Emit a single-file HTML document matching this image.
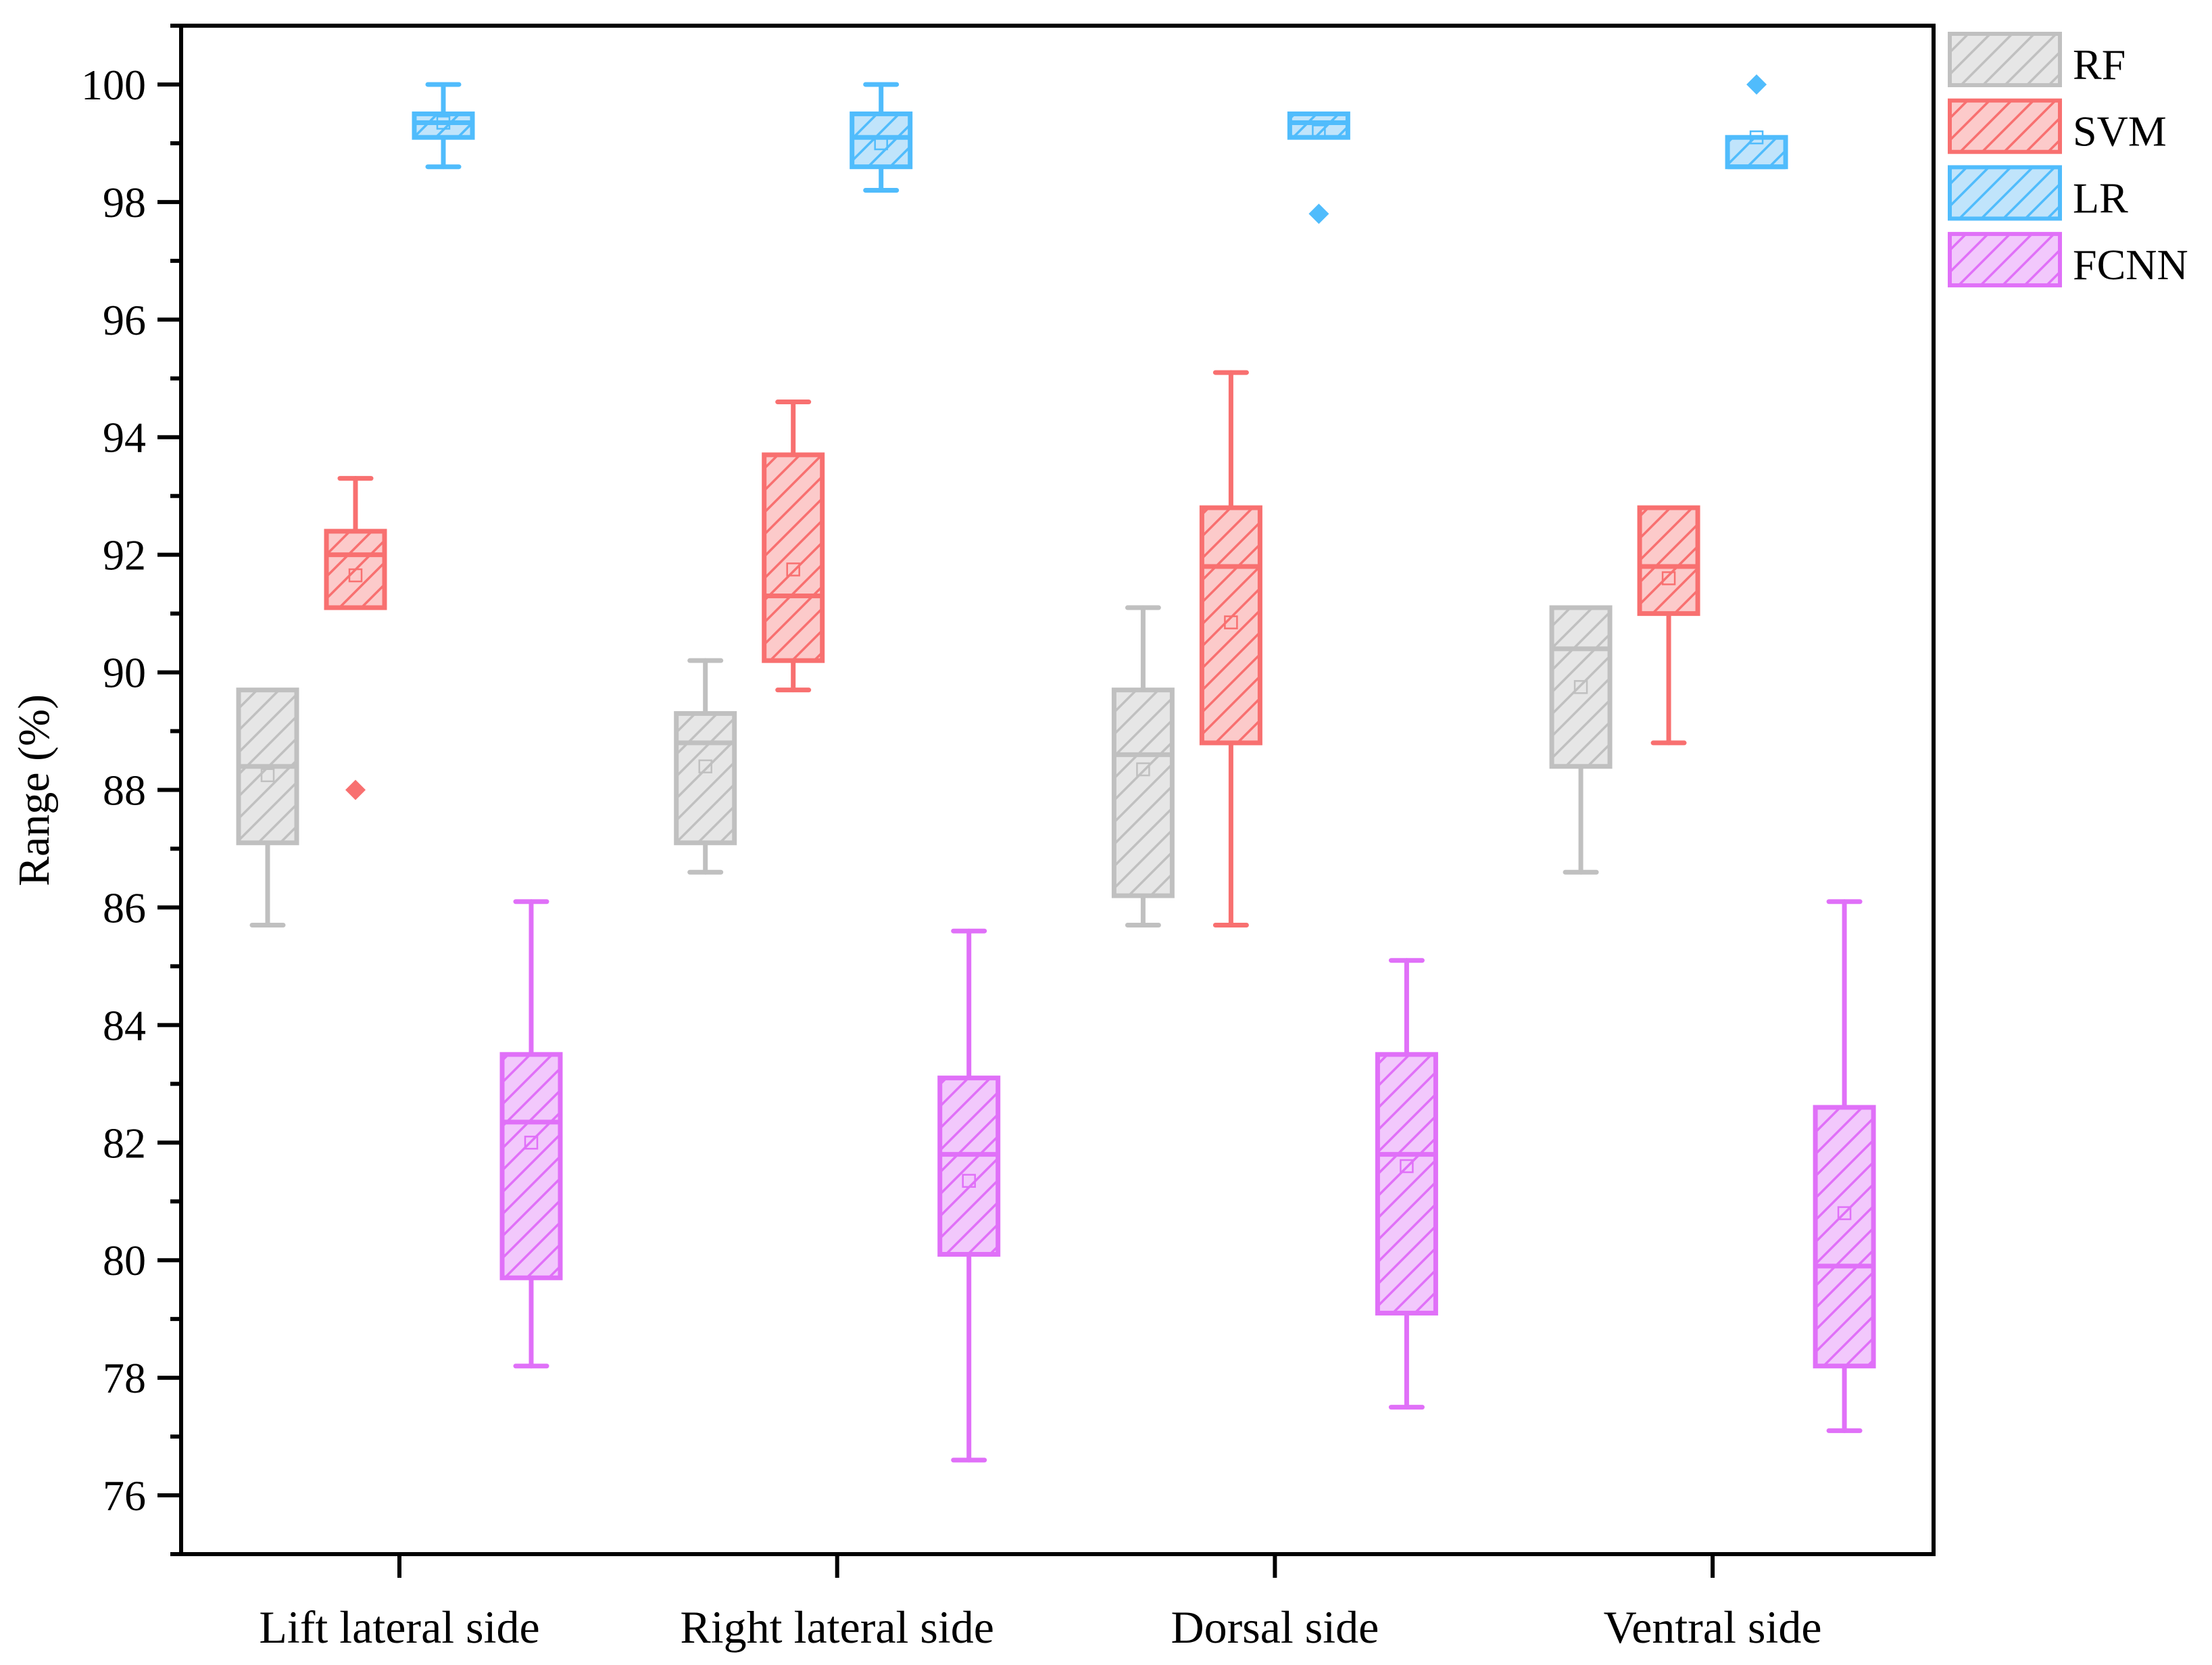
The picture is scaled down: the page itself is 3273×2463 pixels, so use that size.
<!DOCTYPE html>
<html><head><meta charset="utf-8"><style>
html,body{margin:0;padding:0;background:#fff}
svg{display:block;font-family:"Liberation Serif",serif}
svg text{font-family:"Liberation Serif",serif}
</style></head><body>
<svg id="chart" width="3273" height="2463" viewBox="0 0 3273 2463" xmlns="http://www.w3.org/2000/svg" font-family="Liberation Serif, serif">
<defs>
<pattern id="h-RF" patternUnits="userSpaceOnUse" width="23" height="23" patternTransform="rotate(45)"><rect width="23" height="23" fill="#e6e6e6"/><rect x="0" y="0" width="3.5" height="23" fill="#c0c0c0"/></pattern>
<pattern id="h-SVM" patternUnits="userSpaceOnUse" width="23" height="23" patternTransform="rotate(45)"><rect width="23" height="23" fill="#fccaca"/><rect x="0" y="0" width="3.5" height="23" fill="#f87070"/></pattern>
<pattern id="h-LR" patternUnits="userSpaceOnUse" width="23" height="23" patternTransform="rotate(45)"><rect width="23" height="23" fill="#c0e4fb"/><rect x="0" y="0" width="3.5" height="23" fill="#50bcfc"/></pattern>
<pattern id="h-FCNN" patternUnits="userSpaceOnUse" width="23" height="23" patternTransform="rotate(45)"><rect width="23" height="23" fill="#f2c8fc"/><rect x="0" y="0" width="3.5" height="23" fill="#e070f8"/></pattern>
</defs>
<g id="plot"></g>
</svg>
<script>
const categories = ["Lift lateral side","Right lateral side","Dorsal side","Ventral side"];
const seriesNames = ["RF","SVM","LR","FCNN"];
// [whiskerLow, q1, median, q3, whiskerHigh] per category
const rfStats   = [[85.7,87.1,88.4,89.7,89.7],[86.6,87.1,88.8,89.3,90.2],[85.7,86.2,88.6,89.7,91.1],[86.6,88.4,90.4,91.1,91.1]];
const svmStats  = [[91.1,91.1,92.0,92.4,93.3],[89.7,90.2,91.3,93.7,94.6],[85.7,88.8,91.8,92.8,95.1],[88.8,91.0,91.8,92.8,92.8]];
const lrStats   = [[98.6,99.1,99.35,99.5,100],[98.2,98.6,99.1,99.5,100],[99.1,99.1,99.35,99.5,99.5],[98.6,98.6,98.6,99.1,99.1]];
const fcnnStats = [[78.2,79.7,82.35,83.5,86.1],[76.6,80.1,81.8,83.1,85.6],[77.5,79.1,81.8,83.5,85.1],[77.1,78.2,79.9,82.6,86.1]];
const rfMeans   = [88.25,88.4,88.35,89.75];
const svmMeans  = [91.65,91.75,90.85,91.6];
const lrMeans   = [99.35,99.0,99.2,99.1];
const fcnnMeans = [82.0,81.35,81.6,80.8];
const svmOutliers = [[0,88.0]];
const lrOutliers  = [[2,97.8],[3,100]];
const yTicks = [76,78,80,82,84,86,88,90,92,94,96,98,100];
const yMinor = [75,77,79,81,83,85,87,89,91,93,95,97,99,101];

const NS="http://www.w3.org/2000/svg";
const FONT="Liberation Serif, serif";
const colors={RF:"#c0c0c0",SVM:"#f87070",LR:"#50bcfc",FCNN:"#e070f8"};
const L=268,R=2861,T=38,B=2299,yMin=75,yMax=101;
const y=v=>B-(v-yMin)/(yMax-yMin)*(B-T);
const catX=i=>591+i*647.7;
const offs=[-195,-65,65,195];
const g=document.getElementById('plot');
function mk(tag,attrs,parent){const e=document.createElementNS(NS,tag);for(const k in attrs)e.setAttribute(k,attrs[k]);(parent||g).appendChild(e);return e;}

const stats=[rfStats,svmStats,lrStats,fcnnStats];
const means=[rfMeans,svmMeans,lrMeans,fcnnMeans];
const outs=[[],svmOutliers,lrOutliers,[]];
const bw=86,cw=46,sw=7;
seriesNames.forEach((s,si)=>{
  const c=colors[s];
  const sg=mk('g',{});
  
  
  stats[si].forEach((d,ci)=>{
    const cx=catX(ci)+offs[si];
    const bg=mk('g',{},sg);
    
    
    const st={stroke:c,'stroke-width':sw,fill:'none','stroke-linecap':'round'};
    if(d[4]>d[3]){mk('line',Object.assign({x1:cx,x2:cx,y1:y(d[4]),y2:y(d[3])},st),bg);mk('line',Object.assign({x1:cx-cw/2,x2:cx+cw/2,y1:y(d[4]),y2:y(d[4])},st),bg);}
    if(d[0]<d[1]){mk('line',Object.assign({x1:cx,x2:cx,y1:y(d[1]),y2:y(d[0])},st),bg);mk('line',Object.assign({x1:cx-cw/2,x2:cx+cw/2,y1:y(d[0]),y2:y(d[0])},st),bg);}
    mk('rect',{x:cx-bw/2,y:y(d[3]),width:bw,height:Math.max(1,y(d[1])-y(d[3])),fill:'url(#h-'+s+')',stroke:c,'stroke-width':sw},bg);
    mk('line',{x1:cx-bw/2,x2:cx+bw/2,y1:y(d[2]),y2:y(d[2]),stroke:c,'stroke-width':sw},bg);
    const m=means[si][ci];
    mk('rect',{x:cx-9,y:y(m)-9,width:18,height:18,fill:'none',stroke:c,'stroke-width':2.5},bg);
  });
  outs[si].forEach(o=>{
    const cx=catX(o[0])+offs[si],cy=y(o[1]);
    const p=mk('polygon',{points:`${cx},${cy-15} ${cx+15},${cy} ${cx},${cy+15} ${cx-15},${cy}`,fill:c},sg);
    
    
  });
});

// axes
const ax=mk('g',{});


mk('rect',{x:L,y:T,width:R-L,height:B-T,fill:'none',stroke:'#000','stroke-width':6},ax);
const ya=mk('g',{});


yTicks.forEach(v=>{
  mk('line',{x1:L-35,x2:L,y1:y(v),y2:y(v),stroke:'#000','stroke-width':6},ya);
  const t=mk('text',{x:L-52,y:y(v)+22,'text-anchor':'end','font-size':64,'font-family':FONT},ya);
  
  
  t.textContent=v;
});
yMinor.forEach(v=>{mk('line',{x1:L-16,x2:L,y1:y(v),y2:y(v),stroke:'#000','stroke-width':6},ya);});
const xa=mk('g',{});


categories.forEach((c,i)=>{
  mk('line',{x1:catX(i),x2:catX(i),y1:B,y2:B+35,stroke:'#000','stroke-width':6},xa);
  const t=mk('text',{x:catX(i),y:2430,'text-anchor':'middle','font-size':68,'font-family':FONT},xa);
  
  
  t.textContent=c;
});
const yt=mk('text',{x:0,y:0,transform:'translate(72,1169) rotate(-90)','text-anchor':'middle','font-size':66,'font-family':FONT});


yt.textContent='Range (%)';

// legend
const lg=mk('g',{});


seriesNames.forEach((s,i)=>{
  const ly=50+i*98.7;
  const e=mk('g',{},lg);
  
  
  mk('rect',{x:2885,y:ly,width:163,height:76,fill:'url(#h-'+s+')',stroke:colors[s],'stroke-width':6},e);
  const t=mk('text',{x:3067,y:ly+67,'font-size':64,'font-family':FONT},e);
  t.textContent=s;
});
</script>
</body></html>
